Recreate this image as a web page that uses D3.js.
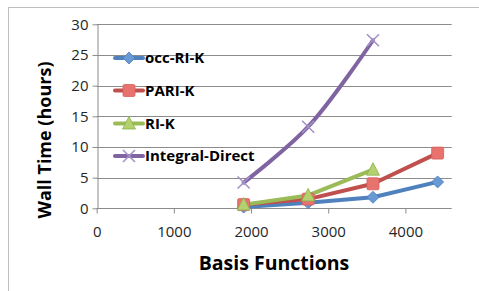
<!DOCTYPE html>
<html><head><meta charset="utf-8">
<script src="https://cdn.jsdelivr.net/npm/d3@7"></script>
<style>html,body{margin:0;padding:0;background:#fff;}svg{display:block;}</style>
</head><body>
<svg id="chart" width="479" height="291"></svg>
<script>
const seriesNames = ["occ-RI-K", "PARI-K", "RI-K", "Integral-Direct"];
const occX = [1904, 2740, 3580, 4418];
const occY = [0.2, 0.9, 1.8, 4.3];
const pariX = [1904, 2740, 3580, 4418];
const pariY = [0.6, 1.5, 4.0, 9.0];
const rikX = [1904, 2740, 3580];
const rikY = [0.6, 2.1, 6.3];
const idX = [1904, 2740, 3580];
const idY = [4.2, 13.3, 27.4];
const xTicks = [0, 1000, 2000, 3000, 4000];
const yTicks = [0, 5, 10, 15, 20, 25, 30];

const svg = d3.select("#chart");
const font = "'Open Sans', 'Liberation Sans', sans-serif";

// outer chart border
svg.append("rect").attr("x", 8.5).attr("y", 7.5).attr("width", 500).attr("height", 320)
  .attr("fill", "#fff").attr("stroke", "#bfbfbf").attr("stroke-width", 1);

const L = 96.7, R = 451.7, T = 24.3, B = 208.3;
const x = d3.scaleLinear().domain([0, 4600]).range([L, R]);
const y = d3.scaleLinear().domain([0, 30]).range([B, T]);

// gridlines
svg.append("g").selectAll("line").data(yTicks.filter(d => d > 0)).join("line")
  .attr("x1", L).attr("x2", R).attr("y1", d => Math.round(y(d)) + 0.5).attr("y2", d => Math.round(y(d)) + 0.5)
  .attr("stroke", "#8c8c8c").attr("stroke-width", 1);

// y axis
const yAxis = svg.append("g").attr("transform", `translate(${Math.round(L)+0.5},0)`)
  .call(d3.axisLeft(y).tickValues(yTicks).tickSize(5).tickPadding(4).tickSizeOuter(0));
// x axis
const xAxis = svg.append("g").attr("transform", `translate(0,${Math.round(B)+0.5})`)
  .call(d3.axisBottom(x).tickValues(xTicks).tickFormat(d3.format("d")).tickSize(5).tickPadding(13).tickSizeOuter(0));
[yAxis, xAxis].forEach(a => {
  a.select(".domain").attr("stroke", "#8c8c8c");
  a.selectAll(".tick line").attr("stroke", "#8c8c8c");
  a.selectAll("text").attr("font-family", font).attr("font-size", 15).attr("fill", "#262626");
});
xAxis.select(".domain").attr("d", `M${L},0H${R}`);

// axis titles
svg.append("text").attr("transform", "translate(51,140) rotate(-90)")
  .attr("text-anchor", "middle").attr("font-family", font).attr("font-weight", "bold")
  .attr("font-size", 18).attr("fill", "#000").text("Wall Time (hours)");
svg.append("text").attr("x", 274).attr("y", 270)
  .attr("text-anchor", "middle").attr("font-family", font).attr("font-weight", "bold")
  .attr("font-size", 19.5).attr("fill", "#000").text("Basis Functions");

const colors = ["#4f81bd", "#c0504d", "#9bbb59", "#8064a2"];
const fills = ["#6a9ad4", "#e8726d", "#b3d16f", "#8064a2"];
const data = [
  occX.map((v, i) => [v, occY[i]]),
  pariX.map((v, i) => [v, pariY[i]]),
  rikX.map((v, i) => [v, rikY[i]]),
  idX.map((v, i) => [v, idY[i]])
];

function marker(g, k) {
  if (k === 0) {
    g.append("path").attr("d", "M0,-6L6,0L0,6L-6,0Z").attr("fill", fills[0]).attr("stroke", "#4a7ebb").attr("stroke-width", 0.8);
  } else if (k === 1) {
    g.append("rect").attr("x", -6).attr("y", -6).attr("width", 12).attr("height", 12).attr("rx", 1.5)
      .attr("fill", fills[1]).attr("stroke", "#d6605c").attr("stroke-width", 0.8);
  } else if (k === 2) {
    g.append("path").attr("d", "M0,-7L6.5,5.5L-6.5,5.5Z").attr("fill", fills[2]).attr("stroke", "#8db04a").attr("stroke-width", 0.8);
  } else {
    g.append("path").attr("d", "M-6,-6L6,6M-6,6L6,-6").attr("stroke", "#a592c8").attr("stroke-width", 1.6).attr("fill", "none");
  }
}

const lineStraight = d3.line().x(d => x(d[0])).y(d => y(d[1]));
const lineSmooth = d3.line().x(d => x(d[0])).y(d => y(d[1])).curve(d3.curveCatmullRom.alpha(0.5));

data.forEach((pts, k) => {
  svg.append("path").attr("d", (k === 3 ? lineSmooth : lineStraight)(pts))
    .attr("fill", "none").attr("stroke", colors[k]).attr("stroke-width", 4)
    .attr("stroke-linejoin", "round").attr("stroke-linecap", "round");
});
data.forEach((pts, k) => {
  pts.forEach(p => {
    const g = svg.append("g").attr("transform", `translate(${x(p[0])},${y(p[1])})`);
    marker(g, k);
  });
});

// legend
const legY = [58, 90.5, 123.5, 156];
seriesNames.forEach((name, k) => {
  const gy = legY[k];
  svg.append("line").attr("x1", 115).attr("x2", 143).attr("y1", gy).attr("y2", gy)
    .attr("stroke", colors[k]).attr("stroke-width", 4).attr("stroke-linecap", "round");
  const g = svg.append("g").attr("transform", `translate(129,${gy})`);
  marker(g, k);
  svg.append("text").attr("x", 145).attr("y", gy).attr("dy", "0.35em")
    .attr("font-family", font).attr("font-weight", "bold").attr("font-size", 15)
    .attr("fill", "#000").text(name);
});
</script>
</body></html>
